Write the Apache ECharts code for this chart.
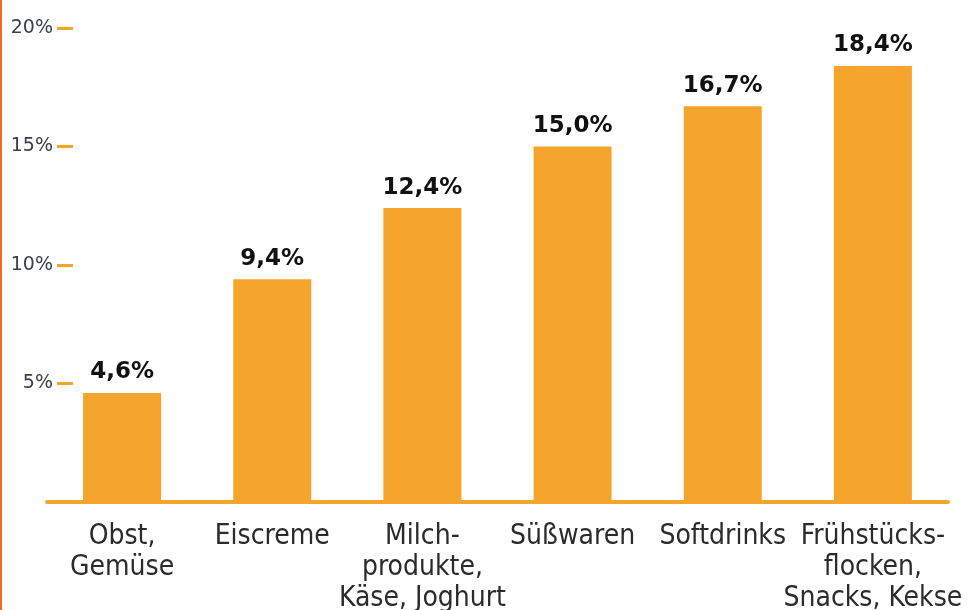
<!DOCTYPE html>
<html>
<head>
<meta charset="utf-8">
<script src="https://cdn.jsdelivr.net/npm/echarts@6/dist/echarts.min.js"></script>
<style>
  html, body { margin: 0; padding: 0; background: #fff; }
  #edge { position: absolute; left: 0; top: 0; width: 2px; height: 610px; background: #ee6a2a; }
  #chart { width: 967px; height: 610px; }
</style>
</head>
<body>
<div id="edge"></div>
<div id="chart"></div>
<script>
// Kategorien und Anteile in Prozent
const categories = [
  "Obst,\nGemüse",
  "Eiscreme",
  "Milch-\nprodukte,\nKäse, Joghurt",
  "Süßwaren",
  "Softdrinks",
  "Frühstücks-\nflocken,\nSnacks, Kekse"
];
const shares = [4.6, 9.4, 12.4, 15.0, 16.7, 18.4];
const yTicks = [0, 5, 10, 15, 20];

const orange = "#f6a52c";

let myChart = echarts.init(document.getElementById("chart"));
myChart.setOption({
  animation: false,
  grid: { left: 47, right: 19, top: 28, bottom: 108, outerBoundsMode: "none" },
  xAxis: {
    type: "category",
    data: categories,
    axisLine: { show: true, lineStyle: { color: orange, width: 4 } },
    axisTick: { show: false },
    axisLabel: {
      interval: 0,
      margin: 19,
      color: "#2b2b2b",
      fontFamily: "Liberation Sans Narrow, DejaVu Sans Condensed, sans-serif",
      fontSize: 28,
      lineHeight: 31
    }
  },
  yAxis: {
    type: "value",
    min: yTicks[0],
    max: yTicks[yTicks.length - 1],
    interval: 5,
    offset: -26,
    splitLine: { show: false },
    axisLine: { show: false },
    axisTick: { show: true, length: 16, lineStyle: { color: orange, width: 3 } },
    axisLabel: {
      showMinLabel: false,
      margin: 20,
      color: "#3a4048",
      fontFamily: "DejaVu Sans, sans-serif",
      fontSize: 19,
      formatter: "{value}%"
    }
  },
  series: [
    {
      type: "bar",
      data: shares,
      barWidth: 78,
      itemStyle: { color: orange },
      label: {
        show: true,
        position: "top",
        distance: 9,
        color: "#111",
        fontFamily: "DejaVu Sans, sans-serif",
        fontWeight: "bold",
        fontSize: 23,
        formatter: (p) => p.value.toFixed(1).replace(".", ",") + "%"
      }
    }
  ]
});
</script>
</body>
</html>
